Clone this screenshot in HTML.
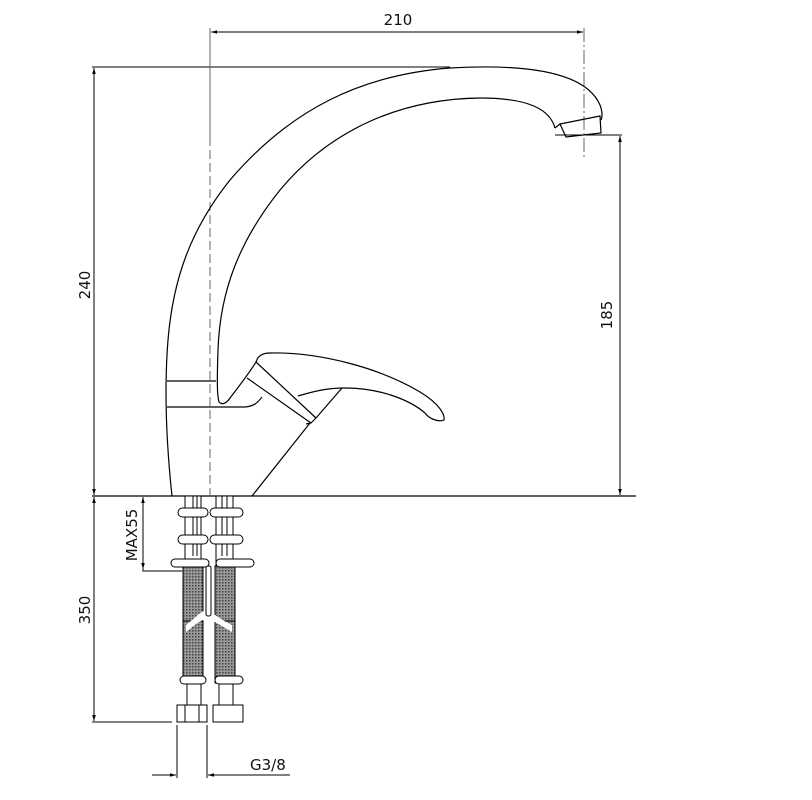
<!DOCTYPE html>
<html><head><style>
html,body{margin:0;padding:0;background:#fff;width:812px;height:800px;overflow:hidden}
text{font-family:"DejaVu Sans","Liberation Sans",sans-serif;font-size:15px;fill:#111}
</style></head><body>
<svg width="812" height="800" viewBox="0 0 812 800" xmlns="http://www.w3.org/2000/svg">
<defs>
<pattern id="mesh" width="3" height="3" patternUnits="userSpaceOnUse">
<rect width="3" height="3" fill="#999"/><rect width="1.5" height="1.5" fill="#444"/>
</pattern>
<marker id="ar" viewBox="0 0 10 10" refX="10" refY="5" markerWidth="8" markerHeight="6" orient="auto-start-reverse"><path d="M0,2 L10,5 L0,8 z" fill="#000"/></marker>
</defs>
<g fill="none" stroke="#000" stroke-width="1.2">
<line x1="92" y1="496" x2="636" y2="496"/>
<line x1="92" y1="67" x2="450" y2="67" stroke-width="1"/>
<line x1="94" y1="68" x2="94" y2="495" stroke-width="1" marker-start="url(#ar)" marker-end="url(#ar)"/>
<line x1="211" y1="32" x2="583" y2="32" stroke-width="1" marker-start="url(#ar)" marker-end="url(#ar)"/>
<line x1="210" y1="28" x2="210" y2="137" stroke="#666" stroke-width="1"/>
<line x1="210" y1="137" x2="210" y2="500" stroke="#666" stroke-width="1" stroke-dasharray="9,4"/>
<line x1="584" y1="28" x2="584" y2="160" stroke="#666" stroke-width="1" stroke-dasharray="14,3,2,3"/>
<line x1="555" y1="135" x2="622" y2="135" stroke-width="1"/>
<line x1="620" y1="136" x2="620" y2="495" stroke-width="1" marker-start="url(#ar)" marker-end="url(#ar)"/>
<path d="M172,496 C166,440 164,390 168,340 C173,280 190,230 230,180 C290,110 360,75 450,68 C520,64 585,70 600,105 C603,113 602,118 601,120"/>
<path d="M555,128 C550,110 530,98 480,98 C400,99 330,130 280,190 C240,240 220,290 218,350 C217,380 217,395 219,402 C222,405 226,404 230,398 C240,385 250,372 256,362"/>
<path d="M560,124 L600,116 L601,133 L566,137 Z"/>
<path d="M555,128 L560,124"/>
<line x1="167" y1="381" x2="216" y2="381"/>
<line x1="167" y1="407" x2="245" y2="407"/>
<path d="M245,407 C255,406 258,402 262,397"/>
<path d="M256,362 C258,356 262,353 270,353 C320,352 380,368 420,392 C440,404 445,415 444,420 C440,422 430,420 425,413"/>
<path d="M425,413 C410,400 380,388 345,388 C330,388 318,390 298,396"/>
<path d="M256,362 L316,418 M247,378 L311,423 M316,418 L311,423 L306,424"/>
<path d="M342,388 L316,418"/>
<line x1="310" y1="423" x2="252" y2="496"/>
<line x1="92" y1="722" x2="172" y2="722" stroke-width="1"/>
<line x1="94" y1="497" x2="94" y2="721" stroke-width="1" marker-start="url(#ar)" marker-end="url(#ar)"/>
<line x1="143" y1="497" x2="143" y2="569" stroke-width="1" marker-start="url(#ar)" marker-end="url(#ar)"/>
<polyline points="143,569 143,571 182,571" stroke-width="1"/>
<line x1="177" y1="725" x2="177" y2="778" stroke-width="1"/>
<line x1="207" y1="725" x2="207" y2="778" stroke-width="1"/>
<line x1="152" y1="775" x2="176" y2="775" stroke-width="1" marker-end="url(#ar)"/>
<line x1="290" y1="775" x2="208" y2="775" stroke-width="1" marker-end="url(#ar)"/>
</g>
<g stroke="#000" stroke-width="1" fill="#fff">
<rect x="183" y="593" width="20" height="90" fill="url(#mesh)"/>
<rect x="215" y="593" width="20" height="90" fill="url(#mesh)"/>
<rect x="183" y="566" width="20" height="55" fill="url(#mesh)"/>
<rect x="215" y="566" width="20" height="55" fill="url(#mesh)"/>
<path d="M186,625 C195,618 200,612 206,610 C212,612 218,618 232,625 L232,632 C220,625 213,620 209,620 L209,640 L205,640 L205,620 C200,620 195,625 186,632Z" stroke="none"/>
<rect x="206" y="566" width="5" height="50" rx="2"/>
<rect x="185" y="496" width="16" height="70"/>
<rect x="216" y="496" width="17" height="70"/>
<line x1="193" y1="496" x2="193" y2="556"/><line x1="197" y1="496" x2="197" y2="556"/>
<line x1="222" y1="496" x2="222" y2="556"/><line x1="227" y1="496" x2="227" y2="556"/>
<rect x="178" y="508" width="30" height="9" rx="4.5"/>
<rect x="210" y="508" width="33" height="9" rx="4.5"/>
<rect x="178" y="535" width="30" height="9" rx="4.5"/>
<rect x="210" y="535" width="33" height="9" rx="4.5"/>
<rect x="171" y="559" width="38" height="8" rx="4"/>
<rect x="216" y="559" width="38" height="8" rx="4"/>
<rect x="180" y="676" width="26" height="8" rx="4"/>
<rect x="215" y="676" width="28" height="8" rx="4"/>
<rect x="187" y="684" width="14" height="21"/>
<rect x="219" y="684" width="14" height="21"/>
<rect x="177" y="705" width="30" height="17"/>
<rect x="213" y="705" width="30" height="17"/>
<line x1="185" y1="705" x2="185" y2="722"/><line x1="199" y1="705" x2="199" y2="722"/>
</g>
<text x="398" y="25" text-anchor="middle">210</text>
<text transform="translate(90,285) rotate(-90)" text-anchor="middle">240</text>
<text transform="translate(612,315) rotate(-90)" text-anchor="middle">185</text>
<text transform="translate(90,610) rotate(-90)" text-anchor="middle">350</text>
<text transform="translate(137,535) rotate(-90)" text-anchor="middle">MAX55</text>
<text x="250" y="770">G3/8</text>
</svg>
</body></html>
